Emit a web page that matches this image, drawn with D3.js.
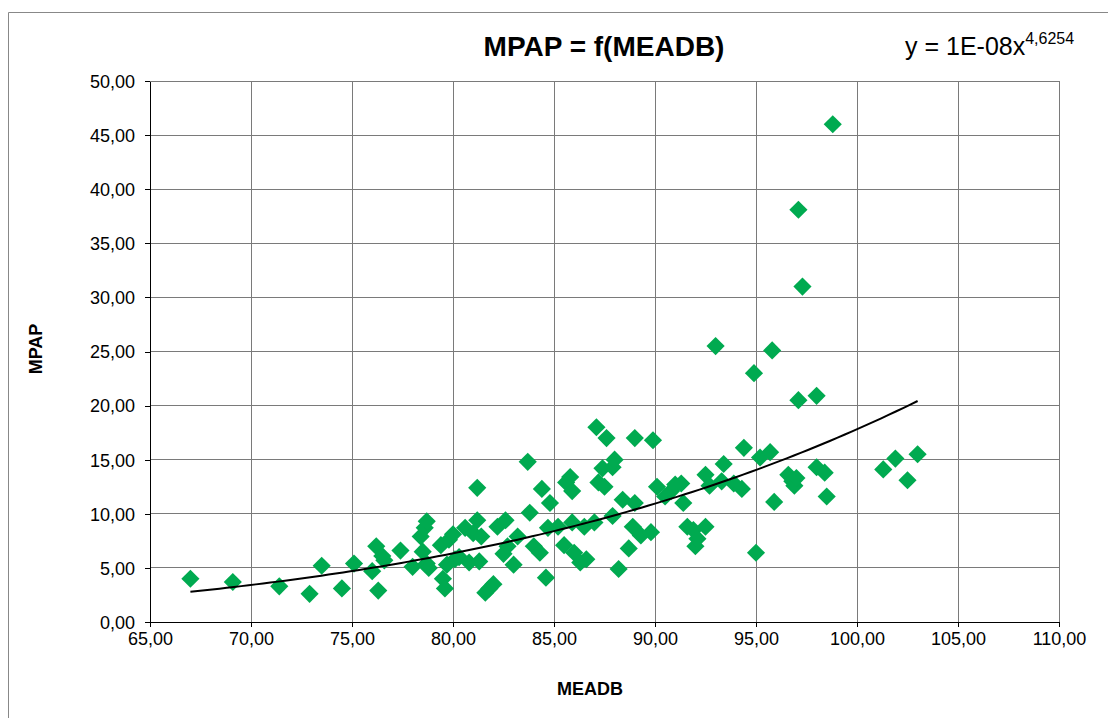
<!DOCTYPE html>
<html>
<head>
<meta charset="utf-8">
<script src="https://cdn.jsdelivr.net/npm/d3@7"></script>
<style>
  body { margin: 0; background: #fff; }
  text { font-family: "Liberation Sans", Arial, sans-serif; }
</style>
</head>
<body>
<svg id="chart" width="1108" height="718"></svg>
<script>
// MEADB values (x)
const meadb = [
  67.0, 69.1, 71.4, 72.9, 73.5, 74.5, 75.1, 76.0, 76.2, 76.3,
  76.5, 76.6, 77.4, 78.0, 78.4, 78.5, 78.6, 78.7, 78.7, 78.8,
  79.4, 79.5, 79.6, 79.7, 79.8, 80.0, 80.1, 80.3, 80.6, 80.8,
  81.0, 81.2, 81.2, 81.3, 81.4, 81.6, 81.8, 82.0, 82.2, 82.5,
  82.6, 82.7, 83.0, 83.2, 83.7, 83.8, 84.0, 84.3, 84.4, 84.6,
  84.7, 84.8, 85.2, 85.5, 85.6, 85.8, 85.9, 85.9, 86.0, 86.3,
  86.5, 86.6, 87.0, 87.1, 87.2, 87.4, 87.5, 87.6, 87.9, 88.0,
  87.9, 88.2, 88.4, 88.7, 88.9, 89.0, 89.0, 89.3, 89.8, 89.9,
  90.1, 90.5, 90.8, 91.0, 91.3, 91.4, 91.6, 91.9, 92.0, 92.1,
  92.5, 92.5, 92.7, 93.0, 93.3, 93.4, 93.9, 94.3, 94.4, 94.9,
  95.0, 95.2, 95.7, 95.8, 95.9, 96.6, 96.8, 96.9, 97.0, 97.1,
  97.1, 97.3, 98.0, 98.0, 98.4, 98.5, 98.8, 101.3, 101.9, 102.5,
  103.0
];
// MPAP values (y)
const mpap = [
  4.0, 3.7, 3.3, 2.6, 5.2, 3.1, 5.4, 4.7, 7.0, 2.9,
  6.1, 5.7, 6.6, 5.1, 7.9, 6.5, 8.7, 9.3, 5.4, 5.0,
  7.1, 4.0, 3.1, 5.3, 7.6, 8.1, 5.8, 6.0, 8.7, 5.5,
  8.2, 9.4, 12.4, 5.6, 7.9, 2.7, 3.1, 3.5, 8.8, 6.3,
  9.4, 7.0, 5.3, 7.9, 14.8, 10.1, 7.0, 6.4, 12.3, 4.1,
  8.7, 11.0, 8.8, 7.1, 12.9, 13.4, 9.2, 12.1, 6.4, 5.5,
  8.8, 5.8, 9.2, 18.0, 12.9, 14.2, 12.5, 17.0, 14.3, 15.0,
  9.8, 4.9, 11.3, 6.8, 8.8, 11.0, 17.0, 8.0, 8.3, 16.8,
  12.5, 11.6, 12.1, 12.7, 12.8, 11.0, 8.8, 8.5, 7.0, 7.7,
  8.8, 13.6, 12.6, 25.5, 13.0, 14.6, 12.8, 12.3, 16.1, 23.0,
  6.4, 15.2, 15.7, 25.1, 11.1, 13.6, 13.0, 12.6, 13.3, 20.5,
  38.1, 31.0, 20.9, 14.3, 13.8, 11.6, 46.0, 14.1, 15.1, 13.1,
  15.5
];
const xTicks = [65, 70, 75, 80, 85, 90, 95, 100, 105, 110];
const yTicks = [0, 5, 10, 15, 20, 25, 30, 35, 40, 45, 50];
// power trend y = a * x^b
const trendA = 1e-8;
const trendB = 4.6254;

const points = meadb.map((x, i) => ({ x: x, y: mpap[i] }));

const plotLeft = 150, plotRight = 1059, plotTop = 81, plotBottom = 622;

const svg = d3.select('#chart');
const fmt = (v) => d3.format('.2f')(v).replace('.', ',');

const xscale = d3.scaleLinear().domain([65, 110]).range([plotLeft, plotRight]);
const yscale = d3.scaleLinear().domain([0, 50]).range([plotBottom, plotTop]);

// chart area border (only top and left visible)
svg.append('path')
  .attr('d', 'M8.5,718 L8.5,12.5 L1108,12.5')
  .attr('fill', 'none')
  .attr('stroke', '#888')
  .attr('stroke-width', 1);

// gridlines
const grid = svg.append('g').attr('shape-rendering', 'crispEdges');
grid.selectAll('line.gx')
  .data(xTicks.slice(1))
  .enter()
  .append('line')
  .attr('x1', (d) => xscale(d))
  .attr('x2', (d) => xscale(d))
  .attr('y1', plotTop)
  .attr('y2', plotBottom)
  .attr('stroke', '#7a7a7a');
grid.selectAll('line.gy')
  .data(yTicks.slice(1))
  .enter()
  .append('line')
  .attr('x1', plotLeft)
  .attr('x2', plotRight)
  .attr('y1', (d) => yscale(d))
  .attr('y2', (d) => yscale(d))
  .attr('stroke', '#7a7a7a');

// axes
const bottomAxis = d3.axisBottom(xscale).tickValues(xTicks).tickFormat(fmt)
  .tickSizeInner(5).tickSizeOuter(0).tickPadding(5);
const gx = svg.append('g')
  .attr('transform', `translate(0, ${plotBottom})`)
  .call(bottomAxis);

const leftAxis = d3.axisLeft(yscale).tickValues(yTicks).tickFormat(fmt)
  .tickSizeInner(5).tickSizeOuter(0).tickPadding(10);
const gy = svg.append('g')
  .attr('transform', `translate(${plotLeft}, 0)`)
  .call(leftAxis);

[gx, gy].forEach((g) => {
  g.attr('shape-rendering', 'crispEdges');
  g.select('.domain').attr('stroke', '#000').attr('stroke-width', 1.5);
  g.selectAll('.tick line').attr('stroke', '#000');
  g.selectAll('.tick text')
    .attr('font-family', '"Liberation Sans", Arial, sans-serif')
    .attr('font-size', 18)
    .attr('fill', '#000');
});
gy.selectAll('.tick text').attr('dy', '0.35em');

// points
svg.append('g')
  .selectAll('path')
  .data(points)
  .enter()
  .append('path')
  .attr('d', d3.symbol(d3.symbolSquare, 165))
  .attr('transform', (d) => `translate(${xscale(d.x)}, ${yscale(d.y)}) rotate(45)`)
  .attr('fill', '#00aa50');

// trend line
const xExt = d3.extent(meadb);
const trendPts = d3.range(0, 101).map((i) => {
  const x = xExt[0] + (xExt[1] - xExt[0]) * i / 100;
  return { x: x, y: trendA * Math.pow(x, trendB) };
});
svg.append('path')
  .datum(trendPts)
  .attr('d', d3.line().x((d) => xscale(d.x)).y((d) => yscale(d.y)))
  .attr('fill', 'none')
  .attr('stroke', '#000')
  .attr('stroke-width', 2);

// title
svg.append('text')
  .text('MPAP = f(MEADB)')
  .attr('x', 604)
  .attr('y', 56)
  .attr('text-anchor', 'middle')
  .attr('font-size', 28)
  .attr('font-weight', 'bold');

// equation
const eq = svg.append('text')
  .attr('x', 905)
  .attr('y', 55)
  .attr('font-size', 25);
eq.append('tspan').text('y = 1E-08x');
eq.append('tspan').text('4,6254').attr('font-size', 16).attr('dy', -11);

// axis titles
svg.append('text')
  .text('MEADB')
  .attr('x', 590)
  .attr('y', 695)
  .attr('text-anchor', 'middle')
  .attr('font-size', 18)
  .attr('font-weight', 'bold');

svg.append('text')
  .text('MPAP')
  .attr('transform', 'translate(42, 349) rotate(-90)')
  .attr('text-anchor', 'middle')
  .attr('font-size', 18)
  .attr('font-weight', 'bold');
</script>
</body>
</html>
